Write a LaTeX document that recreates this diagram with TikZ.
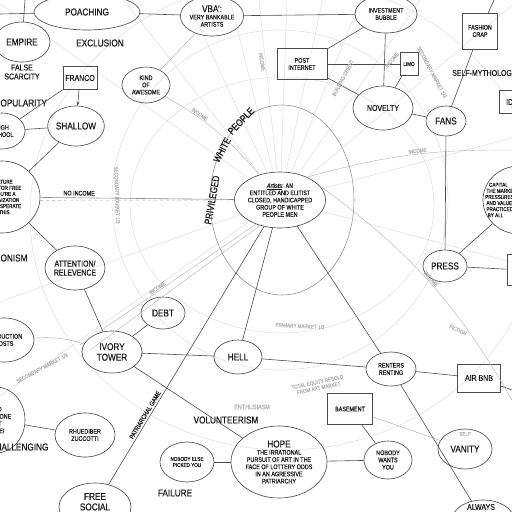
\documentclass[tikz,border=0pt]{standalone}
\usepackage{fontspec}
\setmainfont{Liberation Sans}[FakeStretch=0.82, FakeBold=0.4]
\usetikzlibrary{shapes.geometric,arrows.meta}
\newcommand\bigw{\fontsize{10}{10.5}\selectfont}
\newcommand\midw{\fontsize{8.5}{9}\selectfont}
\newcommand\smallw{\fontsize{6.6}{7.2}\selectfont}
\newcommand\tinyw{\fontsize{5.6}{6.1}\selectfont}
\tikzset{
  bubble/.style={ellipse, draw=black!70, line width=0.65pt, inner sep=0pt, align=center, text=black!90, font=\midw},
  box/.style={rectangle, draw=black!70, line width=0.65pt, inner sep=1pt, align=center, text=black!90, font=\midw},
  word/.style={align=center, text=black!90, font=\bigw, inner sep=0pt},
  ghost/.style={align=center, text=black!30, font=\tinyw, inner sep=0pt},
  link/.style={draw=black!70, line width=0.6pt},
  faint/.style={draw=black!15, line width=0.4pt},
  ring/.style={draw=black!45, line width=0.55pt}
}
\begin{document}
\begin{tikzpicture}[x=1pt,y=-1pt]
  \useasboundingbox (0,0) rectangle (512,512);
  \clip (0,0) rectangle (512,512);
  % 大きな円
  \draw[ring] (282,200) ellipse [x radius=72, y radius=95];
  \draw[faint] (282,205) ellipse [x radius=152, y radius=128];
  \draw[faint] (280,200) ellipse [x radius=168, y radius=170];
  \draw[faint] (285,215) ellipse [x radius=255, y radius=235];

  % 中心
  \node[bubble, minimum width=84, minimum height=56, font=\smallw] (artists) at (280,200)
    {{\itshape\underline{Artists}}: AN\\ENTITLED AND ELITIST\\CLOSED, HANDICAPPED\\GROUP OF WHITE\\PEOPLE MEN};
  % 放射線
  \foreach \a in {15,40,55,68,78,88,96,104,115,128,145,200,215,345}
    \draw[faint] (artists.\a) -- ++(\a:420pt);
  \node[word, rotate=80] (privileged) at (212,200) {PRIVILEGED};
  \node[word, rotate=62] (white) at (222,150) {WHITE};
  \node[word, rotate=46] (people) at (241,121) {PEOPLE};

  % 上の段
  \node[bubble, minimum width=106, minimum height=36, font=\bigw] (poaching) at (87,12) {POACHING};
  \node[bubble, minimum width=62, minimum height=40, font=\smallw] (vba) at (212,16) {{\bigw VBA':}\\VERY BANKABLE\\ARTISTS};
  \node[bubble, minimum width=62, minimum height=38, font=\smallw] (bubble) at (386,14) {INVESTMENT\\BUBBLE};
  \node[box, minimum width=35, minimum height=36, font=\smallw] (fashion) at (480,31) {FASHION\\CRAP};
  \node[bubble, minimum width=56, minimum height=40, font=\bigw] (empire) at (22,42) {EMPIRE};
  \node[word] (exclusion) at (100,43) {EXCLUSION};
  \node[word, font=\midw] (scarcity) at (22,72) {FALSE\\SCARCITY};
  \node[box, minimum width=34, minimum height=23] (franco) at (80,78) {FRANCO};
  \node[bubble, minimum width=48, minimum height=36, font=\smallw] (awesome) at (146,85) {KIND\\OF\\AWESOME};
  \node[box, minimum width=50, minimum height=31, font=\smallw] (internet) at (302,64) {POST\\INTERNET};
  \node[box, minimum width=18, minimum height=23, font=\tinyw] (limo) at (409,64) {LIMO};
  \node[word, anchor=west, font=\midw] (myth) at (452,73) {SELF-MYTHOLOGY};
  \node[box, minimum width=46, minimum height=23] (idbox) at (522,102) {IDENTITY};
  \node[word] (popularity) at (21,103) {POPULARITY};
  \node[bubble, minimum width=46, minimum height=36, font=\smallw] (school) at (2,131) {HIGH\\SCHOOL};
  \node[bubble, minimum width=54, minimum height=40, font=\bigw] (shallow) at (76,126) {SHALLOW};
  \node[bubble, minimum width=60, minimum height=44] (novelty) at (383,108) {NOVELTY};
  \node[bubble, minimum width=40, minimum height=30, font=\bigw] (fans) at (446,121) {FANS};

  % 左側
  \node[bubble, minimum width=76, minimum height=72, font=\tinyw] (culture) at (2,197)
    {CULTURE\\WORK FOR FREE\\IF YOU'RE A\\ORGANIZATION\\ARE DESPERATE\\IN THIS.};
  \node[word] (onism) at (14,258) {ONISM};
  \node[bubble, minimum width=60, minimum height=44] (attention) at (75,268) {ATTENTION/\\RELEVENCE};
  \node[bubble, minimum width=44, minimum height=32, font=\bigw] (debt) at (163,313) {DEBT};
  \node[bubble, minimum width=60, minimum height=42, font=\bigw] (ivory) at (112,352) {IVORY\\TOWER};
  \node[bubble, minimum width=60, minimum height=44, font=\smallw] (costs) at (4,340) {PRODUCTION\\COSTS};
  \node[bubble, minimum width=58, minimum height=66, font=\smallw] (noone) at (-4,420) {AND\\OF NO ONE\\BUT\\MAKE!};
  \node[bubble, minimum width=60, minimum height=44, font=\smallw] (zuccotti) at (85,435) {RHUEDIBER\\ZUCCOTTI};
  \node[word] (challenging) at (19,447) {CHALLENGING};
  \node[bubble, minimum width=72, minimum height=48, font=\bigw] (social) at (95,507) {FREE\\SOCIAL\\WORK};
  \node[word] (failure) at (175,493) {FAILURE};

  % 下の段
  \node[bubble, minimum width=48, minimum height=34, font=\bigw] (hell) at (238,357) {HELL};
  \node[ghost, font=\smallw] (enthusiasm) at (252,407) {ENTHUSIASM};
  \node[word] (volunteer) at (226,420) {VOLUNTEERISM};
  \node[bubble, minimum width=54, minimum height=40, font=\tinyw] (nobodyelse) at (187,462) {NOBODY ELSE\\PICKED YOU};
  \node[bubble, minimum width=96, minimum height=72, font=\smallw] (hope) at (279,462)
    {{\bigw HOPE}\\THE IRRATIONAL\\PURSUIT OF ART IN THE\\FACE OF LOTTERY ODDS\\IN AN AGRESSIVE\\PATRIARCHY};
  \node[bubble, minimum width=48, minimum height=38, font=\smallw] (wants) at (388,460) {NOBODY\\WANTS\\YOU};
  \node[box, minimum width=45, minimum height=31, font=\smallw] (basement) at (350,409) {BASEMENT};
  \node[bubble, minimum width=50, minimum height=34, font=\smallw] (renters) at (391,369) {RENTERS\\RENTING};
  \node[box, minimum width=43, minimum height=28] (airbnb) at (479,378) {AIR BNB};
  \node[bubble, minimum width=54, minimum height=40, font=\bigw] (vanity) at (465,449) {VANITY};
  \node[bubble, minimum width=62, minimum height=40] (always) at (483,520) {};
  \node[word, font=\midw] (alwaystext) at (481,507) {ALWAYS};

  % 右側
  \node[bubble, minimum width=44, minimum height=32, font=\bigw] (press) at (445,266) {PRESS};
  \node[box, minimum width=30, minimum height=31] (rbox) at (522,270) {};
  \node[bubble, minimum width=72, minimum height=68] (capital) at (519,200) {};
  \node[word, anchor=west, font=\tinyw, align=left] (capitaltext) at (485,200)
    {\ \ \ CAPITAL\\\ THE MARKET\\PRESSURES\\\ AND VALUES\\\ PRACTICED\\\ \ BY ALL};

  % 線
  \coordinate (leftend) at (0,14);
  \coordinate (topend) at (25,0);
  \coordinate (fashiontop) at (494,0);
  \coordinate (rightend) at (512,390);
  \draw[link] (poaching) -- (leftend);
  \draw[link] (empire) -- (topend);
  \draw[link] (poaching) -- (vba);
  \draw[link] (vba) -- (bubble);
  \draw[faint, draw=black!35] (vba) -- (awesome);
  \draw[link, -{Stealth[length=4pt]}] (franco) -- (shallow);
  \draw[link] (franco) -- (school);
  \draw[link] (school) -- (shallow);
  \draw[link] (shallow) -- (culture);
  \draw[link] (culture) -- (attention);
  \draw[link] (attention) -- (ivory);
  \draw[link] (ivory) -- (debt);
  \draw[link] (ivory) -- (hell);
  \draw[link] (ivory) -- (hope);
  \draw[faint, draw=black!35] (costs) to[bend left=10] (ivory);
  \draw[link] (zuccotti) -- (noone);
  \draw[link] (social) -- node[word, font=\smallw, sloped, above=2pt, pos=0.26] {PATRIARCHAL GAME} (artists);
  \draw[link] (nobodyelse) -- (hope);
  \draw[link] (hope) -- (wants);
  \draw[link] (basement) -- (wants);
  \draw[faint, draw=black!35] (basement) -- (vanity);
  \draw[link] (artists) -- (hell);
  \draw[link] (artists) -- (renters);
  \draw[link] (hell) -- (renters);
  \draw[link] (renters) -- (airbnb);
  \draw[link] (renters) -- (always);
  \draw[link] (airbnb) -- (rightend);
  \draw[link] (bubble) -- (internet);
  \draw[link] (internet) -- (limo);
  \draw[link] (internet) -- (novelty);
  \draw[link] (bubble) -- (novelty);
  \draw[link] (limo) -- (novelty);
  \draw[link] (novelty) -- (fans);
  \draw[link] (fans) -- (fashion);
  \draw[link] (fashion) -- (fashiontop);
  \draw[link] (fans) -- (press);
  \draw[link] (press) -- (capital);
  \draw[link] (press) -- (rbox);
  \draw[link, draw=black!45] (culture) -- node[word, font=\smallw, sloped, above=2pt, pos=0.2] {NO INCOME} (artists);
  \draw[faint, draw=black!35, dashed] (culture.-5) -- (artists.west);
  \draw[faint, draw=black!30] (awesome) to[bend left=10] node[ghost, sloped, above=1pt, pos=0.3] {INCOME} (artists);
  \draw[faint, draw=black!30] (artists.40) to[bend left=8] node[ghost, sloped, above=1pt, pos=0.55] {INCOME} (512,150);
  \draw[faint, draw=black!30] (artists.20) to[bend left=12] node[ghost, sloped, above=1pt, pos=0.5] {INCOME} (512,400);
  \draw[faint, draw=black!30] (artists.225) -- node[ghost, sloped, above=1pt, pos=0.55] {INCOME} (80,345);
  \draw[faint, draw=black!30] (artists.232) -- (90,350);

  % うすい文字
  \node[ghost, rotate=-88] (secmarket1) at (117,195) {SECONDARY MARKET 1/3};
  \node[ghost, rotate=28] (secmarket2) at (42,368) {SECONDARY MARKET 1/3};
  \node[ghost, rotate=-62] (secmarket3) at (432,72) {SECONDARY MARKET 1/3};
  \node[ghost, rotate=-3] (primmarket) at (300,326) {PRIMARY MARKET 1/3};
  \node[ghost, rotate=62] (credit) at (343,78) {BUILDING CREDIT};
  \node[ghost, rotate=50] (income1) at (392,60) {INCOME};
  \node[ghost, rotate=-80] (income2) at (262,62) {INCOME};
  \node[ghost, rotate=12] (equity) at (318,385) {TOTAL EQUITY RESOLD\\FROM ART MARKET};
  \node[ghost, rotate=-25] (fiction) at (458,330) {FICTION};
  \node[ghost] (self) at (465,434) {SELF};
\end{tikzpicture}
\end{document}
